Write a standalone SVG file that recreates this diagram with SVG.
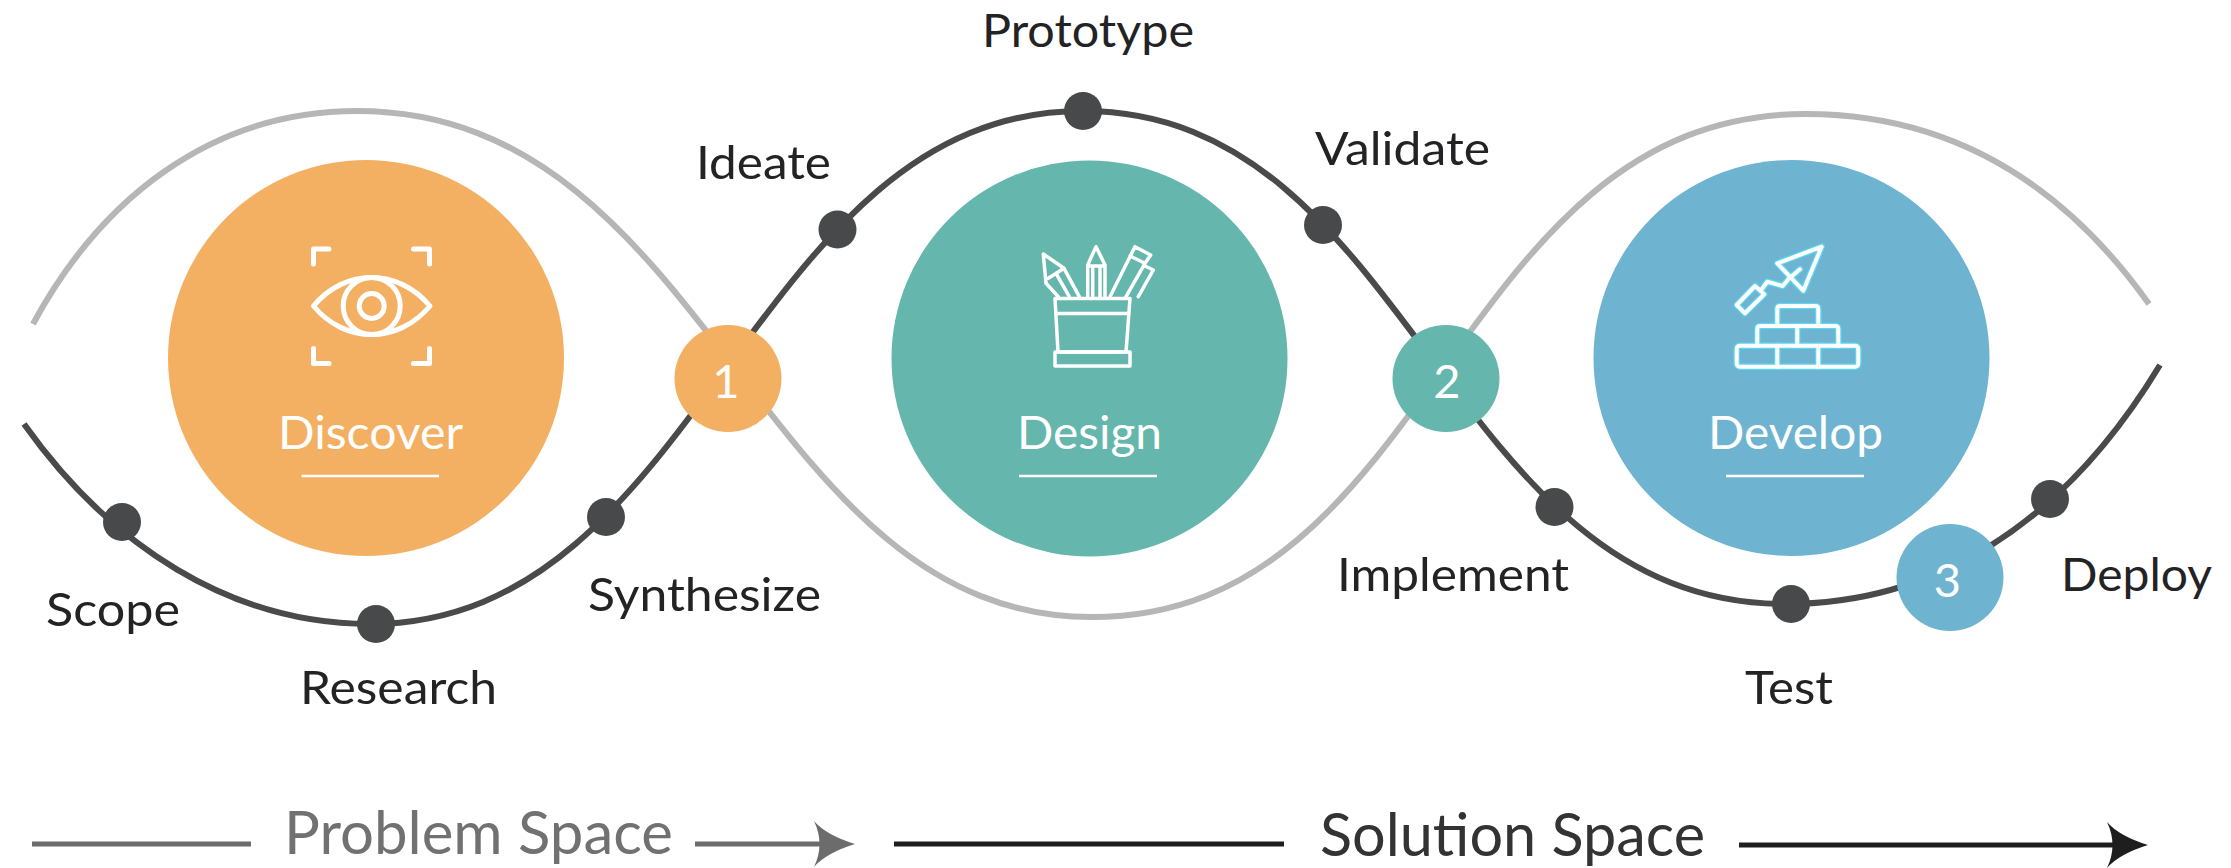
<svg xmlns="http://www.w3.org/2000/svg" xmlns:xlink="http://www.w3.org/1999/xlink" width="2231" height="868" viewBox="0 0 2231 868">
<style>
text{font-family:"Lato","Liberation Sans",sans-serif}
.wave{fill:none;stroke-width:6}
.gray{stroke:#b5b6b5}
.dark{stroke:#4a4a4c}
.dot{fill:#48494b}
.lbl{font-size:47px;fill:#232224}
.title{font-size:47px;fill:#fff}
.num{font-size:47px;fill:#fff}
.rule{stroke:#fff;stroke-width:2.4}
.ico{fill:none;stroke:#fff;stroke-linecap:round;stroke-linejoin:round}
.orange{fill:#f4b062}.teal{fill:#65b6ac}.blue{fill:#6eb4d1}
.space{font-size:60px}
</style>
<rect width="2231" height="868" fill="#fff"/>
<g id="connectors">
<path class="wave gray" d="M33 324C100 200 210 111 357 111C712 111 757 617 1092 617C1437 617 1451 114 1806 114C1930 114 2050 165 2149 304"/>
<path class="wave dark" d="M24 424C110 545 230 624 370 624C705 624 748 111 1083 111C1413 111 1446 604 1785 604C1930 604 2060 530 2160 365"/>
</g>
<g id="discover">
<circle class="orange" cx="366" cy="358" r="198"/>
<g class="ico" stroke-width="5">
<path d="M313.500 264V249H329M413.500 249H429.500V264M313.500 348.500V363.500H329M413.500 363.500H429.500V348.500"/>
<path d="M313.500 306C345 268 398 268 430 306C398 344 345 344 313.500 306Z"/>
<circle cx="371.700" cy="306" r="28.500"/>
<circle cx="371.700" cy="306" r="12.500"/>
</g>
<text class="title" x="278" y="449" textLength="185" lengthAdjust="spacingAndGlyphs">Discover</text>
<line class="rule" x1="301.500" y1="476" x2="439" y2="476"/>
</g>
<g id="design">
<circle class="teal" cx="1089.500" cy="358.500" r="198"/>
<g class="ico" stroke-width="3.500">
<path d="M1055 298.500H1130L1126 352H1058ZM1057 313.500H1128"/>
<rect x="1055" y="352" width="75" height="14"/>
<path d="M1058.300 296.700L1046 283.300L1043.300 254L1064 268.300L1079.300 296.700M1048.300 278.300L1064 268.300M1056 273.300L1069.300 296.700"/>
<path d="M1087.700 296.700V265L1096 246.700L1105 265V296.700M1087.700 266H1105M1092.700 268.300V296.700M1100 268.300V296.700"/>
<path d="M1110 296.700L1135 246.700L1150.700 255L1145 263.300L1126 296.700M1130 256L1145 263.300M1145 266L1153.300 270L1138.300 296.700"/>
</g>
<text class="title" x="1017" y="449" textLength="145" lengthAdjust="spacingAndGlyphs">Design</text>
<line class="rule" x1="1019" y1="476" x2="1157" y2="476"/>
</g>
<g id="develop">
<circle class="blue" cx="1791.500" cy="358" r="198"/>
<defs><g id="trowel">
<rect x="1736.700" y="345.700" width="121.600" height="21" rx="3"/>
<path d="M1777.300 345.700V366.700M1818.300 345.700V366.700M1757.300 345.700V329Q1757.300 326 1760.300 326H1835.300Q1838.300 326 1838.300 329V345.700M1797.300 326V345.700M1777.300 326V309Q1777.300 306 1780.300 306H1815.300Q1818.300 306 1818.300 309V326"/>
<path d="M1777.300 263.300L1821.700 246.700L1803.300 290.700Z"/>
<path d="M1736.700 305L1755 286L1764.300 294.300L1745 313.300Z"/>
<path d="M1761.700 289.300L1767.300 281.700L1782.700 286L1788.300 279.300L1800 269.300"/>
</g></defs>
<use xlink:href="#trowel" href="#trowel" class="ico" style="stroke:#5cd6f2" stroke-width="6.500"/>
<use xlink:href="#trowel" href="#trowel" class="ico" stroke-width="4"/>
<text class="title" x="1708" y="449" textLength="175" lengthAdjust="spacingAndGlyphs">Develop</text>
<line class="rule" x1="1726" y1="476" x2="1864" y2="476"/>
</g>
<g id="step-1"><circle class="orange" cx="728" cy="378.500" r="53.500"/><text class="num" x="726" y="398" text-anchor="middle">1</text></g>
<g id="step-2"><circle class="teal" cx="1446" cy="378.500" r="53.500"/><text class="num" x="1447" y="398" text-anchor="middle">2</text></g>
<g id="step-3"><circle class="blue" cx="1950" cy="577.500" r="53.500"/><text class="num" x="1947.500" y="597" text-anchor="middle">3</text></g>
<g id="scope"><circle class="dot" cx="122" cy="522" r="19"/><text class="lbl" x="46" y="626" textLength="134" lengthAdjust="spacingAndGlyphs">Scope</text></g>
<g id="research"><circle class="dot" cx="376" cy="624" r="19"/><text class="lbl" x="300" y="704" textLength="197" lengthAdjust="spacingAndGlyphs">Research</text></g>
<g id="synthesize"><circle class="dot" cx="606" cy="517" r="19"/><text class="lbl" x="588" y="611" textLength="233" lengthAdjust="spacingAndGlyphs">Synthesize</text></g>
<g id="ideate"><circle class="dot" cx="837.500" cy="229.500" r="19"/><text class="lbl" x="696" y="179" textLength="135" lengthAdjust="spacingAndGlyphs">Ideate</text></g>
<g id="prototype"><circle class="dot" cx="1083" cy="111" r="19"/><text class="lbl" x="982" y="46.500" textLength="212" lengthAdjust="spacingAndGlyphs">Prototype</text></g>
<g id="validate"><circle class="dot" cx="1323" cy="225" r="19"/><text class="lbl" x="1315" y="165" textLength="175" lengthAdjust="spacingAndGlyphs">Validate</text></g>
<g id="implement"><circle class="dot" cx="1554.500" cy="507" r="19"/><text class="lbl" x="1337" y="591" textLength="232" lengthAdjust="spacingAndGlyphs">Implement</text></g>
<g id="test"><circle class="dot" cx="1791" cy="604" r="19"/><text class="lbl" x="1745" y="704" textLength="88" lengthAdjust="spacingAndGlyphs">Test</text></g>
<g id="deploy"><circle class="dot" cx="2050" cy="499" r="19"/><text class="lbl" x="2061" y="591" textLength="151" lengthAdjust="spacingAndGlyphs">Deploy</text></g>
<g id="problem-space">
<path d="M32 844H251M695 844H826" stroke="#6b6c6b" stroke-width="5" fill="none"/>
<path d="M855 844Q826 835 814 821Q825 844 814 867Q826 853 855 844Z" fill="#6b6c6b"/>
<text class="space" x="284" y="854" textLength="389" lengthAdjust="spacingAndGlyphs" fill="#707170">Problem Space</text>
</g>
<g id="solution-space">
<path d="M894 844H1284M1739 845H2118" stroke="#1e1e1e" stroke-width="5" fill="none"/>
<path d="M2148 845Q2119 836 2107 822Q2118 845 2107 868Q2119 854 2148 845Z" fill="#1e1e1e"/>
<text class="space" x="1320" y="856" textLength="385" lengthAdjust="spacingAndGlyphs" fill="#333">Solution Space</text>
</g>
</svg>
